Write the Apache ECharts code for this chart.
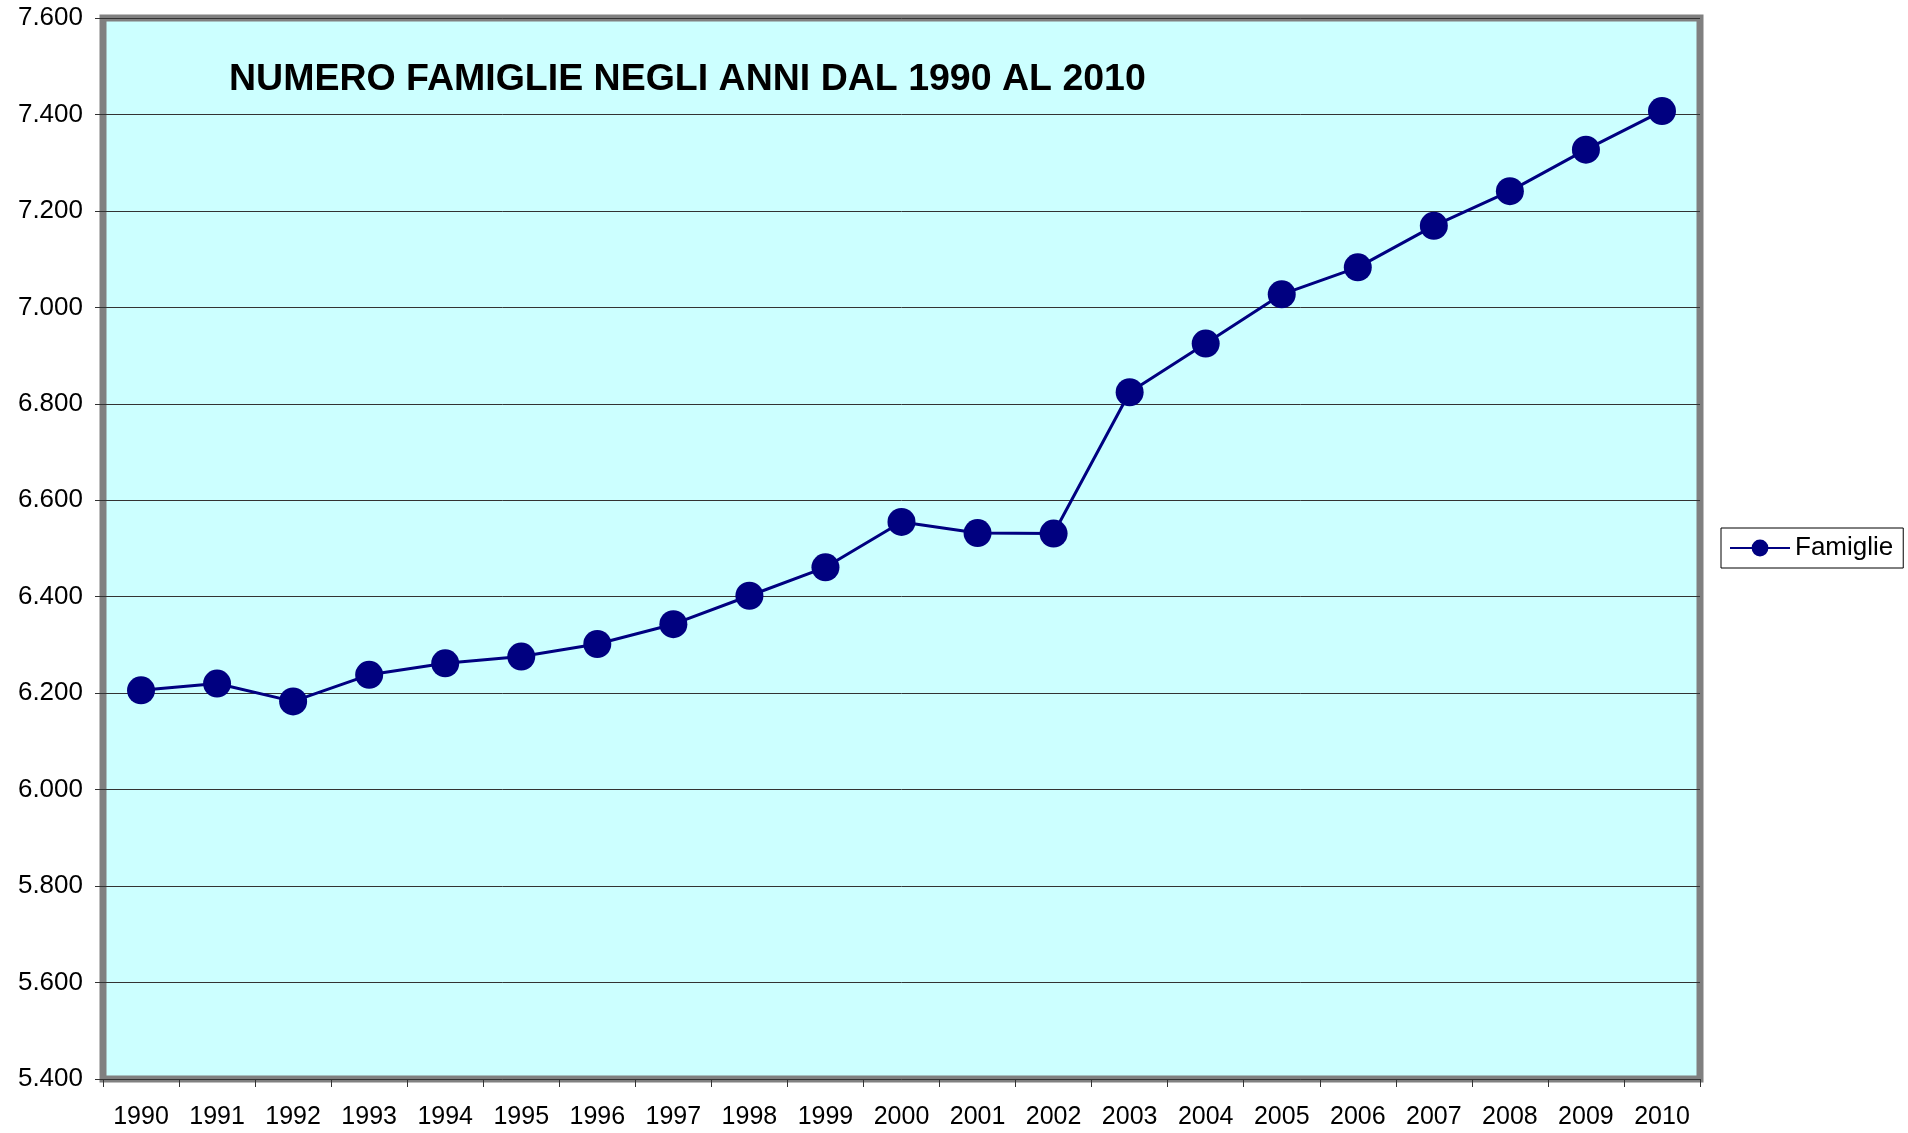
<!DOCTYPE html>
<html>
<head>
<meta charset="utf-8">
<script src="https://cdn.jsdelivr.net/npm/echarts@6/dist/echarts.min.js"></script>
<style>
  html, body { margin: 0; padding: 0; background: #fff; }
  #chart { width: 1908px; height: 1133px; }
</style>
</head>
<body>
<div id="chart"></div>
<script>
// anni
const years = ['1990', '1991', '1992', '1993', '1994', '1995', '1996', '1997', '1998', '1999', '2000',
  '2001', '2002', '2003', '2004', '2005', '2006', '2007', '2008', '2009', '2010'];
// numero famiglie
const famiglie = [6206, 6220, 6183, 6238, 6262, 6276, 6302, 6343, 6402, 6461, 6555,
  6532, 6531, 6824, 6925, 7027, 7083, 7169, 7241, 7327, 7407];

const titolo = 'NUMERO FAMIGLIE NEGLI ANNI DAL 1990 AL 2010';
const FONT = '"Liberation Sans", Arial, sans-serif';

const chart = echarts.init(document.getElementById('chart'));

chart.setOption({
  animation: false,
  backgroundColor: '#ffffff',
  title: {
    text: titolo,
    left: 229,
    top: 61,
    padding: 0,
    textStyle: {
      fontFamily: FONT,
      fontSize: 37.5,
      fontWeight: 'bold',
      color: '#000'
    }
  },
  legend: {
    left: 1721,
    top: 528,
    padding: [7, 10, 7, 8],
    borderColor: '#000',
    borderWidth: 1,
    itemWidth: 60,
    itemHeight: 21,
    itemGap: 5,
    textStyle: {
      fontFamily: FONT,
      fontSize: 26,
      color: '#000'
    },
    data: ['Famiglie']
  },
  grid: {
    left: 103,
    right: 208,
    top: 18,
    bottom: 54,
    show: true,
    backgroundColor: '#ccffff',
    borderColor: '#808080',
    borderWidth: 7
  },
  xAxis: {
    type: 'category',
    data: years,
    boundaryGap: true,
    axisLine: { show: false },
    axisTick: {
      show: true,
      length: 8,
      inside: false,
      lineStyle: { color: '#333', width: 1 }
    },
    axisLabel: {
      margin: 26,
      fontFamily: FONT,
      fontSize: 25,
      color: '#000',
      interval: 0
    },
    splitLine: { show: false }
  },
  yAxis: {
    type: 'value',
    min: 5400,
    max: 7600,
    interval: 200,
    axisLine: { show: false },
    axisTick: {
      show: true,
      length: 8,
      lineStyle: { color: '#333', width: 1 }
    },
    axisLabel: {
      margin: 20,
      fontFamily: FONT,
      fontSize: 26,
      color: '#000',
      formatter: function (v) {
        return (v / 1000).toFixed(3);
      }
    },
    splitLine: {
      show: true,
      lineStyle: { color: '#333', width: 1 }
    }
  },
  series: [{
    name: 'Famiglie',
    type: 'line',
    data: famiglie,
    symbol: 'circle',
    symbolSize: 28,
    lineStyle: { color: '#000080', width: 3 },
    itemStyle: { color: '#000080' },
    z: 5
  }]
});
</script>
</body>
</html>
